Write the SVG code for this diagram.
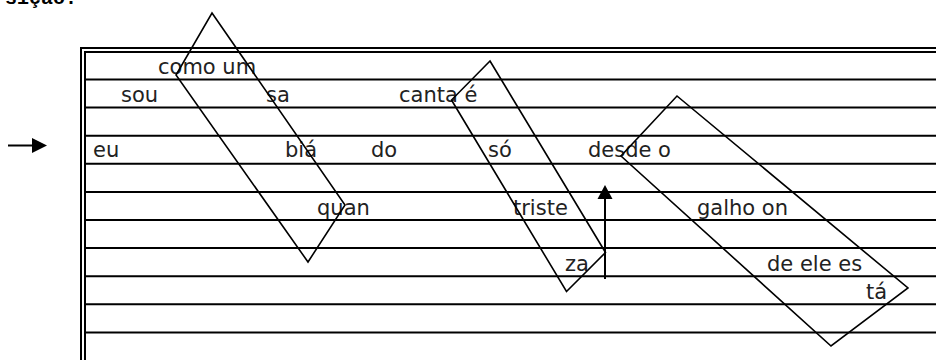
<svg xmlns="http://www.w3.org/2000/svg" width="936" height="360" viewBox="0 0 936 360">
<style>
.ln{stroke:#000;stroke-width:2;fill:none}
.sh{stroke:#000;stroke-width:1.6;fill:none;stroke-linejoin:miter}
.t{font-family:"DejaVu Sans",sans-serif;font-size:21px;fill:#222}
.h{font-family:"Liberation Mono",monospace;font-size:20px;font-weight:bold;fill:#000}
</style>
<rect width="936" height="360" fill="#fff"/>
<text class="h" x="5" y="4">sição:</text>
<g id="staff">
<path class="ln" d="M81,360 V48 H936 M85,360 V52 H936"/>
<path class="ln" d="M85,79.5H936 M85,107.6H936 M85,135.7H936 M85,163.8H936 M85,191.9H936 M85,220H936 M85,248.1H936 M85,276.2H936 M85,304.3H936 M85,332.4H936"/>
</g>
<g id="words">
<text class="t" x="158" y="74">como um</text>
<text class="t" x="121" y="102">sou</text>
<text class="t" x="266" y="102">sa</text>
<text class="t" x="399" y="102">canta é</text>
<text class="t" x="93" y="157">eu</text>
<text class="t" x="285" y="157">biá</text>
<text class="t" x="371" y="157">do</text>
<text class="t" x="488" y="157">só</text>
<text class="t" x="588" y="157">desde o</text>
<text class="t" x="317" y="215">quan</text>
<text class="t" x="513" y="215">triste</text>
<text class="t" x="697" y="215">galho on</text>
<text class="t" x="565" y="271">za</text>
<text class="t" x="767" y="271">de ele es</text>
<text class="t" x="866" y="299">tá</text>
</g>
<g id="box1"><polygon class="sh" points="212,13 345,205 308,262 176,75"/></g>
<g id="box2"><polygon class="sh" points="490,61 605.5,252.5 566.5,291.5 451.5,100"/></g>
<g id="box3"><polygon class="sh" points="677,96 908,288 831,346 621,156"/></g>
<g id="connectors">
<line x1="8" y1="145.5" x2="33" y2="145.5" stroke="#000" stroke-width="2"/>
<path d="M32,138 L47,145.5 L32,153 Z" fill="#000"/>
<line x1="605" y1="279" x2="605" y2="198" stroke="#000" stroke-width="2"/>
<path d="M605,185 L612.5,199 L597.5,199 Z" fill="#000"/>
</g>
</svg>
